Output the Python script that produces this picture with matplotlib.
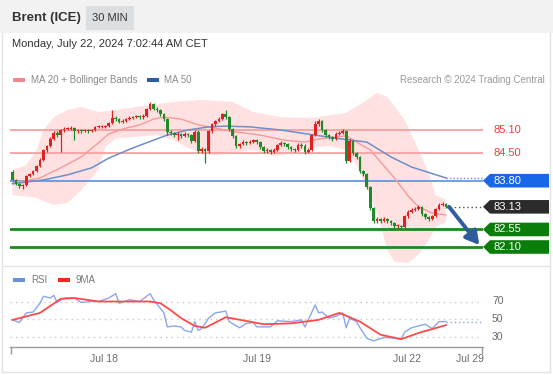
import numpy as np
import matplotlib
matplotlib.use("Agg")
import matplotlib.pyplot as plt
from matplotlib.patches import Rectangle, Polygon
import matplotlib.transforms as mtransforms

plt.rcParams['font.family'] = ['Liberation Sans', 'DejaVu Sans']

# ---------------- data ----------------
title = "Brent (ICE)"
timeframe = "30 MIN"
date_text = "Monday, July 22, 2024 7:02:44 AM CET"
credit = "Research \u00a9 2024 Trading Central"

opens = [84.02, 83.82, 83.72, 83.66, 83.69, 83.92, 83.97, 84.05, 84.18, 84.33,
         84.59, 84.69, 84.87, 85.02, 84.97, 85.10, 85.13, 85.13, 85.15, 85.07,
         85.10, 85.07, 85.10, 85.07, 85.10, 85.18, 85.18, 85.18, 85.20, 85.28,
         85.41, 85.38, 85.31, 85.33, 85.38, 85.41, 85.43, 85.46, 85.43, 85.46,
         85.64, 85.77, 85.64, 85.61, 85.51, 85.38, 85.05, 85.02, 84.97, 85.00,
         84.95, 85.00, 84.97, 84.82, 85.05, 84.56, 84.61, 84.56, 85.07, 85.25,
         85.33, 85.38, 85.51, 85.43, 85.13, 84.95, 84.69, 84.74, 84.79, 84.77,
         84.79, 84.84, 84.79, 84.66, 84.56, 84.59, 84.54, 84.59, 84.72, 84.77,
         84.74, 84.66, 84.61, 84.59, 84.72, 84.69, 84.54, 84.59, 84.97, 85.25,
         85.33, 85.10, 84.97, 84.92, 84.87, 85.00, 85.02, 85.07, 84.31, 84.82,
         84.51, 84.41, 84.05, 83.97, 83.64, 83.10, 82.77, 82.82, 82.77, 82.82,
         82.77, 82.72, 82.64, 82.64, 82.61, 82.89, 83.00, 83.05, 83.07, 83.13,
         82.95, 82.87, 82.82, 82.89, 83.07, 83.18, 83.20]
closes = [83.82, 83.72, 83.66, 83.69, 83.92, 83.97, 84.05, 84.18, 84.33, 84.59,
          84.69, 84.87, 85.02, 84.97, 85.10, 85.13, 85.13, 85.15, 85.07, 85.10,
          85.07, 85.10, 85.07, 85.10, 85.18, 85.18, 85.18, 85.20, 85.28, 85.41,
          85.38, 85.31, 85.33, 85.38, 85.41, 85.43, 85.46, 85.43, 85.46, 85.64,
          85.77, 85.64, 85.61, 85.51, 85.38, 85.05, 85.02, 84.97, 85.00, 84.95,
          85.00, 84.97, 84.82, 85.05, 84.56, 84.61, 84.56, 85.07, 85.25, 85.33,
          85.38, 85.51, 85.43, 85.13, 84.95, 84.69, 84.74, 84.79, 84.77, 84.79,
          84.84, 84.79, 84.66, 84.56, 84.59, 84.54, 84.59, 84.72, 84.77, 84.74,
          84.66, 84.61, 84.59, 84.72, 84.69, 84.54, 84.59, 84.97, 85.25, 85.33,
          85.10, 84.97, 84.92, 84.87, 85.00, 85.02, 85.07, 84.31, 84.82, 84.51,
          84.41, 84.05, 83.97, 83.64, 83.10, 82.77, 82.82, 82.77, 82.82, 82.77,
          82.72, 82.64, 82.64, 82.61, 82.89, 83.00, 83.05, 83.07, 83.13, 82.95,
          82.87, 82.82, 82.89, 83.07, 83.18, 83.20, 83.13]
highs = [84.07, 83.85, 83.75, 83.72, 83.95, 84.00, 84.08, 84.21, 84.38, 84.62,
         84.72, 84.92, 85.07, 85.07, 85.13, 85.18, 85.18, 85.20, 85.18, 85.13,
         85.13, 85.13, 85.13, 85.13, 85.20, 85.22, 85.22, 85.23, 85.31, 85.61,
         85.45, 85.41, 85.38, 85.41, 85.45, 85.46, 85.49, 85.49, 85.51, 85.67,
         85.82, 85.80, 85.69, 85.64, 85.54, 85.41, 85.10, 85.05, 85.05, 85.02,
         85.05, 85.02, 85.00, 85.10, 85.10, 84.66, 84.64, 85.10, 85.28, 85.36,
         85.43, 85.54, 85.61, 85.46, 85.15, 84.97, 84.77, 84.84, 84.82, 84.84,
         84.87, 84.87, 84.82, 84.69, 84.64, 84.61, 84.64, 84.74, 84.82, 84.79,
         84.77, 84.69, 84.64, 84.77, 84.77, 84.74, 84.64, 85.00, 85.33, 85.38,
         85.36, 85.13, 85.00, 84.95, 85.05, 85.07, 85.13, 85.10, 84.87, 84.84,
         84.54, 84.43, 84.08, 84.00, 83.66, 83.13, 82.87, 82.84, 82.87, 82.84,
         82.79, 82.74, 82.69, 82.66, 82.92, 83.05, 83.10, 83.13, 83.18, 83.15,
         82.97, 82.90, 82.92, 83.10, 83.23, 83.25, 83.23]
lows = [83.79, 83.69, 83.62, 83.59, 83.66, 83.89, 83.94, 84.02, 84.15, 84.30,
        84.54, 84.66, 84.84, 84.92, 84.54, 85.05, 85.10, 85.10, 84.84, 85.02,
        85.02, 85.05, 85.02, 85.05, 85.07, 85.15, 85.15, 85.15, 85.18, 85.25,
        85.33, 85.28, 85.28, 85.31, 85.36, 85.38, 85.41, 85.38, 85.38, 85.43,
        85.61, 85.61, 85.56, 85.46, 85.33, 84.97, 84.97, 84.92, 84.84, 84.90,
        84.92, 84.92, 84.77, 84.79, 84.51, 84.51, 84.25, 84.51, 85.02, 85.20,
        85.31, 85.36, 85.38, 85.07, 84.90, 84.64, 84.64, 84.72, 84.72, 84.74,
        84.77, 84.74, 84.61, 84.51, 84.51, 84.49, 84.51, 84.56, 84.69, 84.69,
        84.61, 84.56, 84.54, 84.56, 84.64, 84.49, 84.51, 84.56, 84.95, 85.20,
        85.05, 84.92, 84.87, 84.82, 84.84, 84.97, 85.00, 84.25, 84.28, 84.46,
        84.36, 84.00, 83.92, 83.59, 83.05, 82.72, 82.72, 82.72, 82.74, 82.72,
        82.66, 82.59, 82.59, 82.56, 82.59, 82.84, 82.97, 83.02, 83.05, 82.90,
        82.82, 82.77, 82.79, 82.87, 83.05, 83.15, 83.10]

# MA20 (at candle index)
ma20_idx = [0, 8, 14, 20, 25, 28, 33, 37, 41, 44, 49, 54, 60, 65, 72, 79, 85, 89, 97,
            100, 104, 107, 111, 115, 118, 122, 126]
ma20_val = [83.74, 83.87, 84.13, 84.41, 84.77, 85.00, 85.15, 85.23, 85.38, 85.43, 85.38,
            85.23, 85.13, 85.05, 84.97, 84.84, 84.79, 84.87, 84.95, 84.79, 84.59, 84.28,
            83.87, 83.41, 83.13, 82.97, 82.92]
# MA50
ma50_idx = [0, 9, 16, 23, 28, 35, 41, 45, 51, 57, 62, 69, 78, 84, 94, 103, 110, 116, 126]
ma50_val = [83.72, 83.82, 83.95, 84.13, 84.38, 84.64, 84.84, 84.97, 85.10, 85.18, 85.20,
            85.18, 85.10, 85.02, 84.89, 84.79, 84.41, 84.15, 83.87]
# Bollinger bands
bb_up_idx = [0, 4, 7, 9, 12, 16, 20, 25, 30, 40, 47, 55, 64, 70, 78, 87, 97, 103, 106,
             109, 114, 118, 121, 123, 126]
bb_up_val = [84.07, 84.20, 84.59, 85.10, 85.43, 85.61, 85.69, 85.56, 85.61, 85.74, 85.82,
             85.87, 85.82, 85.56, 85.43, 85.41, 85.54, 85.87, 86.05, 85.95, 85.36, 84.59,
             84.00, 83.43, 83.31]
bb_lo_idx = [0, 6, 12, 16, 20, 25, 27, 30, 35, 42, 47, 51, 57, 60, 70, 76, 82, 86, 92, 97,
             100, 104, 107, 109, 111, 115, 118, 121, 123, 126]
bb_lo_val = [83.43, 83.38, 83.18, 83.23, 83.56, 84.07, 84.66, 84.89, 84.92, 84.97, 84.84,
             84.64, 84.46, 84.46, 84.59, 84.43, 84.51, 84.64, 84.69, 84.59, 84.20, 83.43,
             82.66, 82.02, 81.72, 81.69, 81.90, 82.28, 82.61, 82.74]

# RSI and its 9-period MA
rsi_idx = [0, 2, 4, 6, 8, 9, 11, 12, 13, 15, 18, 20, 23, 25, 28, 30, 31, 34, 37, 40, 41,
           44, 45, 47, 49, 50, 52, 53, 54, 55, 57, 59, 62, 63, 66, 68, 70, 71, 75, 77, 81,
           84, 85, 88, 89, 90, 92, 94, 96, 97, 98, 100, 101, 103, 105, 108, 111, 113, 114,
           116, 120, 122, 124, 126]
rsi_val = [49, 46, 57, 58, 68, 76, 74, 77, 69, 74, 74, 69, 70, 70, 74, 79, 68, 72, 70, 79,
           72, 57, 41, 42, 41, 37, 35, 47, 37, 39, 51, 57, 59, 47, 40, 45, 46, 41, 41, 48,
           47, 49, 41, 66, 57, 58, 51, 53, 57, 40, 51, 47, 40, 28, 25, 29, 28, 27, 35, 40,
           44, 39, 47, 47]
rsi_ma_idx = [0, 8, 14, 18, 25, 34, 40, 43, 46, 49, 53, 56, 62, 69, 73, 81, 89, 95, 101,
              107, 113, 118, 126]
rsi_ma_val = [49, 57, 73, 74, 70, 70, 70, 68, 60, 51, 42, 40, 52, 47, 44, 45, 49, 57, 47,
              32, 27, 34, 43]
rsi_levels = [70, 50, 30]

resistances = [85.10, 84.50]
pivot = 83.80
supports = [82.55, 82.10]

tick_pos = [26.6, 71.1, 114.7, 133.0]
tick_labels = ["Jul 18", "Jul 19", "Jul 22", "Jul 29"]

# ---------------- figure ----------------
W, H = 553, 375
fig = plt.figure(figsize=(W / 100, H / 100), dpi=100)
fig.patch.set_facecolor("white")


def fx(x):
    return x / W


def fy(y):
    return 1 - y / H


# header band
fig.patches.append(Rectangle((0, fy(33)), 1, 33 / H, transform=fig.transFigure,
                             facecolor="#f2f2f2", edgecolor="none", zorder=0))
fig.patches.append(Rectangle((fx(86), fy(30)), 48 / W, 24 / H, transform=fig.transFigure,
                             facecolor="#dcdfe2", edgecolor="none", zorder=1))
fig.text(fx(12), fy(18), title, fontsize=9.5, fontweight="bold", color="#333333",
         va="center", ha="left")
fig.text(fx(110), fy(18), timeframe, fontsize=8, color="#333333", va="center", ha="center")
fig.text(fx(12), fy(44), date_text, fontsize=8, color="#333333", va="center", ha="left")

# frame lines
frame_col = "#e3e3e3"
for (x0, y0, x1, y1) in [(2, 33, 2, 372), (550, 33, 550, 372), (2, 372, 550, 372),
                         (2, 266, 550, 266)]:
    fig.add_artist(plt.Line2D([fx(x0), fx(x1)], [fy(y0), fy(y1)], transform=fig.transFigure,
                              color=frame_col, lw=1))

# legends
fig.patches.append(Rectangle((fx(13), fy(82)), 12 / W, 4 / H, transform=fig.transFigure,
                             facecolor="#f08a8a", edgecolor="none"))
fig.text(fx(31), fy(80), "MA 20 + Bollinger Bands", fontsize=7, color="#8a8a8a",
         va="center", ha="left")
fig.patches.append(Rectangle((fx(147), fy(82)), 12 / W, 4 / H, transform=fig.transFigure,
                             facecolor="#2e5c9e", edgecolor="none"))
fig.text(fx(164), fy(80), "MA 50", fontsize=7, color="#8a8a8a", va="center", ha="left")
fig.text(fx(545), fy(80), credit, fontsize=7, color="#9a9a9a", va="center", ha="right")

fig.patches.append(Rectangle((fx(13), fy(282)), 12 / W, 4 / H, transform=fig.transFigure,
                             facecolor="#6b8fe0", edgecolor="none"))
fig.text(fx(31), fy(280), "RSI", fontsize=7, color="#7a7a7a", va="center", ha="left")
fig.patches.append(Rectangle((fx(58), fy(282)), 12 / W, 4 / H, transform=fig.transFigure,
                             facecolor="#ff2525", edgecolor="none"))
fig.text(fx(76), fy(280), "9MA", fontsize=7, color="#7a7a7a", va="center", ha="left")

# ---------------- main price axes ----------------
px_per_unit = 39.0
xl = (-0.727, 136.77)
ax = fig.add_axes([fx(10), fy(266), 473 / W, 178 / H])
ax.set_xlim(*xl)
ax.set_ylim(85.10 - (266 - 130) / px_per_unit, 85.10 + (130 - 88) / px_per_unit)
ax.axis("off")

n = len(closes)
idx = np.arange(n)
o = np.array(opens)
c = np.array(closes)
h = np.array(highs)
l = np.array(lows)

# Bollinger band
poly_x = list(bb_up_idx) + list(bb_lo_idx[::-1])
poly_y = list(bb_up_val) + list(bb_lo_val[::-1])
ax.fill(poly_x, poly_y, color="#ffe1e1", lw=0, zorder=1)

# horizontal levels
for r in resistances:
    ax.axhline(r, color="#f7a6a6", lw=1.4, zorder=2)
ax.axhline(pivot, color="#5b8ee8", lw=1.2, zorder=2)
for s in supports:
    ax.axhline(s, color="#1e8a1e", lw=2.0, zorder=2)

# moving averages
ax.plot(ma20_idx, ma20_val, color="#f59a9a", lw=1.0, zorder=3)
ax.plot(ma50_idx, ma50_val, color="#6d8fc8", lw=1.1, zorder=3)
ax.plot([ma50_idx[-1], xl[1]], [ma50_val[-1], ma50_val[-1]], color="#6d8fc8", lw=1.0,
        ls=(0, (1, 1.5)), zorder=3)
ax.plot([idx[-1], xl[1]], [c[-1], c[-1]], color="#555555", lw=1.0, ls=(0, (1, 2)), zorder=3)

# candles
up = c >= o
cols = np.where(up, "#dd2222", "#1f8a2a")
ax.vlines(idx, l, h, colors=cols, lw=0.9, zorder=4)
body_bottom = np.minimum(o, c)
body_h = np.maximum(np.abs(c - o), 0.015)
ax.bar(idx, body_h, bottom=body_bottom, width=0.78, color=cols, edgecolor="none", zorder=5)

# arrow
ax.annotate("", xy=(n - 1 + 9.7, supports[1] + 0.05), xytext=(n - 1 + 0.9, c[-1]),
            arrowprops=dict(arrowstyle="-|>,head_length=0.8,head_width=0.45",
                            color="#2f5d9b", lw=2.8, shrinkA=0, shrinkB=0), zorder=6)

# right side labels
trans = mtransforms.blended_transform_factory(fig.transFigure, ax.transData)
half = 6.8 / px_per_unit


def tag(level, color):
    pts = [(fx(483), level), (fx(490), level + half), (fx(549), level + half),
           (fx(549), level - half), (fx(490), level - half)]
    p = Polygon(pts, closed=True, transform=trans, facecolor=color, edgecolor="none",
                clip_on=False, zorder=7)
    ax.add_patch(p)
    ax.text(fx(493), level, f"{level:.2f}", transform=trans, color="white", fontsize=8,
            va="center", ha="left", clip_on=False, zorder=8)


for r in resistances:
    ax.text(fx(493), r, f"{r:.2f}", transform=trans, color="#f23c3c", fontsize=8,
            va="center", ha="left", clip_on=False)
tag(pivot, "#1a66e8")
tag(c[-1], "#2b2b2b")
for s in supports:
    tag(s, "#0a7d0a")

# ---------------- RSI axes ----------------
rpx = 0.875
ax2 = fig.add_axes([fx(10), fy(347), 473 / W, 77 / H])
ax2.set_xlim(*xl)
ax2.set_ylim(50 - (347 - 319) / rpx, 50 + (319 - 270) / rpx)
for sp in ["top", "right", "left"]:
    ax2.spines[sp].set_visible(False)
ax2.spines["bottom"].set_color("#9a9a9a")
ax2.spines["bottom"].set_linewidth(1.0)
ax2.set_yticks([])
ax2.set_xticks(tick_pos)
ax2.set_xticklabels(tick_labels, fontsize=7.5, color="#6a6a6a")
ax2.tick_params(axis="x", which="major", length=0, pad=5)
ax2.set_xticks([xl[0] + 0.15, xl[1] - 0.15], minor=True)
ax2.tick_params(axis="x", which="minor", length=5, color="#9a9a9a", width=1)
ax2.set_facecolor("none")

for lv in rsi_levels:
    ax2.axhline(lv, color="#c8c8c8", lw=1.0, ls=(0, (1, 3)), zorder=1)
    ax2.text(fx(492), lv, f"{lv}", transform=mtransforms.blended_transform_factory(
        fig.transFigure, ax2.transData), fontsize=7.5, color="#6a6a6a", va="center",
        ha="left", clip_on=False)

ax2.plot(rsi_idx, rsi_val, color="#8aa6ee", lw=1.0, zorder=2)
ax2.plot(rsi_ma_idx, rsi_ma_val, color="#ff4a4a", lw=1.3, zorder=3)
ax2.plot([rsi_idx[-1], xl[1]], [rsi_val[-1], rsi_val[-1]], color="#8aa6ee", lw=1.0,
         ls=(0, (1, 2)), zorder=2)

fig.savefig("out.png", dpi=100)
